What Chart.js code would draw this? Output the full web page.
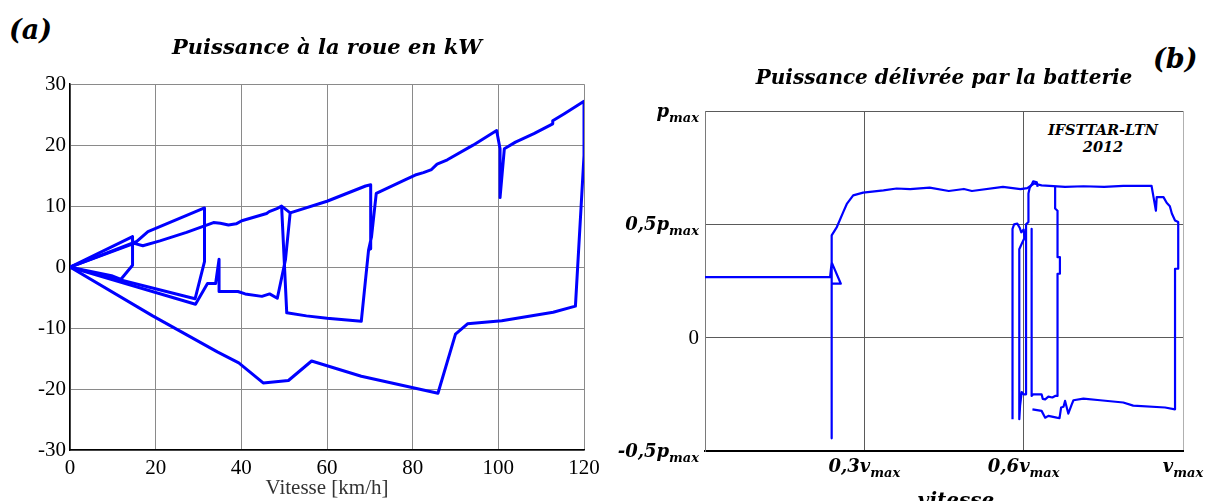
<!DOCTYPE html>
<html>
<head>
<meta charset="utf-8">
<script src="https://cdn.jsdelivr.net/npm/chart.js@4.4.1/dist/chart.umd.min.js"></script>
<style>
  body { margin: 0; background: #fff; width: 1207px; height: 501px; overflow: hidden; position: relative; }
  canvas { position: absolute; top: 0; }
  #chartA { left: 0; }
  #chartB { left: 612px; }
  .tag { position: absolute; font-family: 'DejaVu Serif', serif; font-style: italic; font-weight: bold; font-size: 27px; line-height: 30px; }
  .mark { position: absolute; font-family: 'DejaVu Serif', serif; font-style: italic; font-weight: bold; font-size: 14.5px; line-height: 17px; text-align: center; width: 160px; }
</style>
</head>
<body>
<div class="tag" style="left:9px; top:15px;">(a)</div>
<div class="tag" style="left:1153px; top:44px;">(b)</div>
<div class="mark" style="left:1023px; top:121px;">IFSTTAR-LTN<br>2012</div>
<canvas id="chartA" width="612" height="501"></canvas>
<canvas id="chartB" width="595" height="501"></canvas>
<script>
// (a) wheel power [kW] against speed [km/h], one array pair per pass of the trace
var pass1Speed = [0, 14.6, 14.6, 11.9, 9.7, 0];
var pass1Power = [0, 5.0, 0.3, -2.0, -1.4, 0];

var pass2Speed = [0, 15.6, 18.2, 31.4, 31.4, 29.2, 0];
var pass2Power = [0, 4.2, 5.8, 9.7, 0.9, -5.2, 0];

var pass3Speed = [0, 15.0, 17.0, 21.0, 27.2, 33.5, 35.1, 37.0, 38.8, 40.1,
                  45.9, 46.5, 48.3, 49.4, 51.4, 50.3, 48.4, 46.6, 44.8, 40.9,
                  39.2, 34.8, 34.8, 34.0, 32.1, 29.3, 0];
var pass3Power = [0, 3.9, 3.5, 4.3, 5.7, 7.3, 7.2, 6.9, 7.1, 7.6,
                  8.8, 9.1, 9.6, 10.0, 8.9, 1.2, -5.1, -4.4, -4.8, -4.4,
                  -4.0, -4.0, 1.3, -2.7, -2.7, -6.1, 0];

var pass4Speed = [49.4, 50.6, 55.2, 60.0, 68.0, 69.7];
var pass4Power = [10.0, -7.5, -8.0, -8.4, -8.9, 2.8];

var pass5Speed = [51.4, 60.0, 69.0, 70.2, 70.2, 69.7, 70.4, 71.5, 78.2, 80.6,
                  82.5, 84.4, 85.7, 88.1, 94.1, 99.6, 100.4, 100.4, 101.4, 104.0,
                  108.3, 112.7, 112.7, 115.5, 120.0, 120.0, 118.0, 112.8, 100.8, 92.8,
                  90.0, 85.9, 68.0, 56.4, 51.0, 45.1, 39.4, 34.4, 19.3, 0];
var pass5Power = [8.9, 10.8, 13.3, 13.5, 3.0, 2.8, 5.0, 12.1, 14.3, 15.1,
                  15.5, 16.0, 16.9, 17.6, 20.0, 22.4, 19.4, 11.4, 19.4, 20.5,
                  21.9, 23.5, 24.0, 25.2, 27.2, 18.3, -6.4, -7.4, -8.8, -9.3,
                  -11.0, -20.7, -17.9, -15.4, -18.6, -19.0, -15.7, -13.9, -8.0, 0];

// (b) battery power (fraction of p_max) against speed (0..120 = 0..v_max scale)
var battSpeed = [0, 31.4, 31.8, 34.1, 31.8, 31.8, 31.8, 33.1, 34.7, 35.6,
                 37.2, 39.7, 44.8, 48.1, 51.5, 56.4, 61.2, 65.0, 67.0, 74.8,
                 79.2, 80.9, 82.6, 84.5, 86.5, 90.4, 95.0, 100.2, 105.0, 112.1,
                 112.6, 113.2, 113.4, 115.1, 115.9, 116.7, 117.2, 118.0, 118.8, 118.8,
                 118.0, 118.0, 115.5, 107.5, 105.0, 99.2, 95.0, 92.5, 92.1, 91.2,
                 90.4, 90.0, 89.4, 89.0, 88.3, 86.2, 85.4, 84.5, 82.2];
var battPower = [0.267, 0.267, 0.332, 0.238, 0.238, -0.444, 0.451, 0.488, 0.554, 0.590,
                 0.628, 0.640, 0.650, 0.658, 0.655, 0.662, 0.647, 0.656, 0.647, 0.665,
                 0.655, 0.660, 0.680, 0.672, 0.670, 0.665, 0.668, 0.665, 0.670, 0.670,
                 0.620, 0.560, 0.620, 0.620, 0.595, 0.580, 0.548, 0.517, 0.510, 0.304,
                 0.304, -0.316, -0.308, -0.300, -0.286, -0.276, -0.269, -0.276, -0.293, -0.335,
                 -0.279, -0.305, -0.308, -0.355, -0.353, -0.345, -0.353, -0.323, -0.316];

var burst1Speed = [77.2, 77.2, 77.6, 78.4, 79.0, 79.4, 80.0, 80.2, 79.4, 78.9,
                   78.9, 79.1, 79.5, 80.0, 80.6, 80.6, 81.2, 81.2, 81.5, 82.0,
                   82.4, 83.3, 83.5];
var burst1Power = [-0.360, 0.480, 0.500, 0.503, 0.485, 0.465, 0.477, 0.440, 0.410, 0.390,
                   -0.360, -0.300, -0.240, -0.250, -0.250, 0.500, 0.510, 0.636, 0.660, 0.675,
                   0.690, 0.685, 0.665];

var burst2Speed = [82.0, 82.0, 82.4, 84.5, 84.8, 85.4, 86.2, 87.2, 87.9, 88.5,
                   88.5, 89.1, 89.1, 88.5, 88.5, 87.9, 87.9];
var burst2Power = [0.480, -0.257, -0.250, -0.250, -0.270, -0.272, -0.260, -0.264, -0.257, -0.257,
                   0.282, 0.282, 0.355, 0.355, 0.560, 0.570, 0.665];

// tick labels of (b): main text + subscript
var bYTicks = [-0.5, 0, 0.5, 1];
var bYMain = ['-0,5p', '0', '0,5p', 'p'];
var bYSub = ['max', '', 'max', 'max'];
var bXTicks = [40, 80, 120];
var bXMain = ['0,3v', '0,6v', 'v'];
var bXSub = ['max', 'max', 'max'];

var serif = "'Liberation Serif', 'Times New Roman', serif";
var boldSerif = "'DejaVu Serif', serif";
var blue = '#0000ff';

function pts(xs, ys) {
    return xs.map(function (x, i) { return { x: x, y: ys[i] }; });
}

function trace(xs, ys, w) {
    return {
        data: pts(xs, ys),
        borderColor: blue,
        borderWidth: w,
        borderJoinStyle: 'round',
        showLine: true,
        pointRadius: 0,
        fill: false,
        tension: 0
    };
}

// Chart (a)
new Chart(document.getElementById('chartA'), {
    type: 'scatter',
    data: {
        datasets: [
            trace(pass1Speed, pass1Power, 3),
            trace(pass2Speed, pass2Power, 3),
            trace(pass3Speed, pass3Power, 3),
            trace(pass4Speed, pass4Power, 3),
            trace(pass5Speed, pass5Power, 3)
        ]
    },
    options: {
        responsive: false,
        animation: false,
        layout: { padding: { right: 28 } },
        plugins: {
            legend: { display: false },
            tooltip: { enabled: false },
            title: {
                display: true,
                text: 'Puissance à la roue en kW',
                fullSize: false,
                color: '#000',
                font: { family: boldSerif, size: 21, style: 'italic', weight: 'bold' },
                padding: { top: 36, bottom: 23 }
            }
        },
        scales: {
            x: {
                type: 'linear', min: 0, max: 120,
                ticks: { stepSize: 20, padding: 6, color: '#000', maxRotation: 0, font: { family: serif, size: 21 } },
                grid: { color: '#8a8a8a', drawTicks: false },
                border: { color: '#000', width: 1.5 },
                title: { display: true, text: 'Vitesse [km/h]', color: '#333', font: { family: serif, size: 21 }, padding: 0 },
                afterFit: function (s) { s.height = 51; }
            },
            y: {
                min: -30, max: 30,
                ticks: { stepSize: 10, padding: 4, color: '#000', font: { family: serif, size: 21 } },
                grid: { color: '#8a8a8a', drawTicks: false },
                border: { color: '#000', width: 1.5 },
                afterFit: function (s) { s.width = 70; }
            }
        }
    }
});

// draws "main" + subscript text
function drawSub(ctx, main, sub, x, base, align) {
    var mainFont = (main === '0') ? '21px ' + serif : 'italic bold 18px ' + boldSerif;
    var subFont = 'italic bold 13px ' + boldSerif;
    ctx.font = mainFont;
    var w1 = ctx.measureText(main).width;
    ctx.font = subFont;
    var w2 = sub ? ctx.measureText(sub).width : 0;
    var left = x;
    if (align === 'right') left = x - w1 - w2;
    if (align === 'center') left = x - (w1 + w2) / 2;
    ctx.textAlign = 'left';
    ctx.textBaseline = 'alphabetic';
    ctx.font = mainFont;
    ctx.fillText(main, left, base);
    if (sub) {
        ctx.font = subFont;
        ctx.fillText(sub, left + w1, base + 5);
    }
}

var subTicks = {
    id: 'subTicks',
    afterDraw: function (chart) {
        var ctx = chart.ctx, xs = chart.scales.x, ys = chart.scales.y, area = chart.chartArea;
        ctx.save();
        ctx.fillStyle = '#000';
        bYTicks.forEach(function (v, i) {
            drawSub(ctx, bYMain[i], bYSub[i], area.left - 6, ys.getPixelForValue(v) + 6, 'right');
        });
        bXTicks.forEach(function (v, i) {
            drawSub(ctx, bXMain[i], bXSub[i], xs.getPixelForValue(v), area.bottom + 21, 'center');
        });
        ctx.font = 'italic bold 20px ' + boldSerif;
        ctx.textAlign = 'center';
        ctx.textBaseline = 'alphabetic';
        ctx.fillText('vitesse', (area.left + area.right) / 2 + 12, area.bottom + 56);
        ctx.restore();
    }
};

// Chart (b)
new Chart(document.getElementById('chartB'), {
    type: 'scatter',
    data: {
        datasets: [
            trace(battSpeed, battPower, 2.2),
            trace(burst1Speed, burst1Power, 2.2),
            trace(burst2Speed, burst2Power, 2.2)
        ]
    },
    options: {
        responsive: false,
        animation: false,
        layout: { padding: { right: 24 } },
        plugins: {
            legend: { display: false },
            tooltip: { enabled: false },
            title: {
                display: true,
                text: 'Puissance délivrée par la batterie',
                fullSize: false,
                color: '#000',
                font: { family: boldSerif, size: 20, style: 'italic', weight: 'bold' },
                padding: { top: 67, bottom: 20 }
            }
        },
        scales: {
            x: {
                type: 'linear', min: 0, max: 120,
                ticks: { stepSize: 40, display: false },
                grid: {
                    drawTicks: false,
                    color: function (c) { return c.tick && c.tick.value === 120 ? '#b0b0b0' : '#5a5a5a'; }
                },
                border: { color: '#000', width: 2 },
                afterFit: function (s) { s.height = 50; }
            },
            y: {
                min: -0.5, max: 1,
                ticks: { stepSize: 0.5, display: false },
                grid: { color: '#5a5a5a', drawTicks: false },
                border: { color: '#7a7a7a', width: 1 },
                afterFit: function (s) { s.width = 93; }
            }
        }
    },
    plugins: [subTicks]
});
</script>
</body>
</html>
